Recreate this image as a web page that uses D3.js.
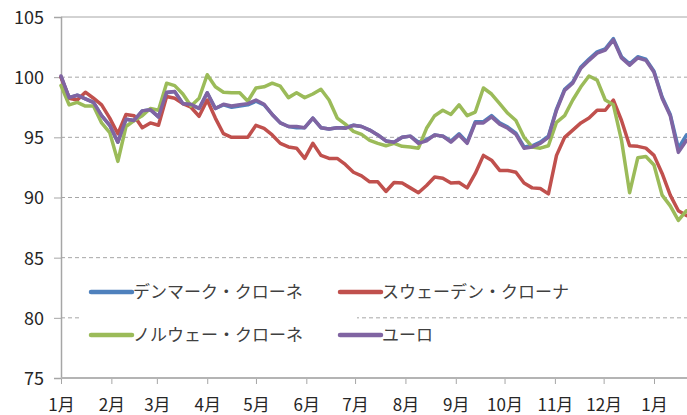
<!DOCTYPE html>
<html>
<head>
<meta charset="utf-8">
<script src="https://cdn.jsdelivr.net/npm/d3@7"></script>
<style>
  body { margin: 0; background: #fff; }
  svg text { font-family: "Noto Sans CJK JP", "Liberation Sans", sans-serif; fill: #262626; }
</style>
</head>
<body>
<svg id="chart"></svg>
<script>
// Index values (start of Jan = 100), one reading every 5 days from 2014-01-01
const dates = d3.timeDay.range(new Date(2014, 0, 1), new Date(2015, 0, 22), 5);

const dkk = [100.0, 98.3, 98.5, 98.2, 97.9, 96.8, 96.0, 94.6, 96.5, 96.4,
  97.2, 97.3, 96.7, 98.7, 98.8, 97.8, 97.7, 97.4, 98.7, 97.4,
  97.7, 97.5, 97.6, 97.7, 98.0, 97.7, 96.9, 96.2, 95.9, 95.8,
  95.8, 96.6, 95.8, 95.7, 95.8, 95.8, 96.0, 95.9, 95.6, 95.2,
  94.7, 94.6, 95.0, 95.1, 94.6, 94.8, 95.2, 95.1, 94.7, 95.3,
  94.6, 96.3, 96.3, 96.8, 96.2, 95.85, 95.35, 94.2, 94.3, 94.6,
  95.1, 97.35, 99.0, 99.6, 100.85, 101.5, 102.1, 102.35, 103.2, 101.7,
  101.1, 101.7, 101.5, 100.5, 98.35, 96.9, 94.1, 95.2];

const sek = [100.0, 98.25, 98.1, 98.75, 98.25, 97.7, 96.6, 95.3, 96.9, 96.8,
  95.8, 96.2, 96.0, 98.4, 98.25, 97.8, 97.5, 96.75, 98.1, 96.6,
  95.3, 95.0, 95.0, 95.0, 96.0, 95.75, 95.2, 94.5, 94.2, 94.1,
  93.25, 94.5, 93.5, 93.25, 93.25, 92.75, 92.1, 91.8, 91.3, 91.3,
  90.5, 91.25, 91.2, 90.8, 90.4, 91.0, 91.7, 91.6, 91.2, 91.25,
  90.8, 92.0, 93.5, 93.1, 92.25, 92.25, 92.1, 91.2, 90.8, 90.75,
  90.3, 93.5, 95.0, 95.6, 96.2, 96.6, 97.25, 97.25, 98.1, 96.4,
  94.3, 94.25, 94.1, 93.5, 92.0, 90.2, 88.9, 88.5];

const nok = [99.3, 97.7, 97.9, 97.6, 97.6, 96.2, 95.4, 93.0, 95.9, 96.4,
  96.8, 97.4, 97.25, 99.5, 99.3, 98.6, 97.6, 98.25, 100.2, 99.2,
  98.75, 98.7, 98.7, 98.0, 99.1, 99.2, 99.5, 99.25, 98.3, 98.7,
  98.3, 98.6, 99.0, 98.1, 96.6, 96.1, 95.5, 95.25, 94.75, 94.5,
  94.3, 94.5, 94.25, 94.2, 94.1, 95.75, 96.8, 97.25, 96.9, 97.7,
  96.8, 97.1, 99.1, 98.6, 97.8, 97.0, 96.4, 95.0, 94.2, 94.1,
  94.3, 96.25, 96.8, 98.1, 99.2, 100.1, 99.75, 98.1, 97.7, 94.75,
  90.4, 93.3, 93.4, 92.7, 90.2, 89.3, 88.1, 88.9];

const eur = [100.1, 98.3, 98.5, 98.2, 97.9, 96.8, 96.0, 94.6, 96.5, 96.4,
  97.2, 97.3, 96.7, 98.75, 98.8, 97.8, 97.75, 97.4, 98.7, 97.4,
  97.75, 97.6, 97.7, 97.8, 98.1, 97.75, 96.9, 96.2, 95.9, 95.9,
  95.8, 96.6, 95.8, 95.7, 95.8, 95.75, 96.0, 95.9, 95.6, 95.2,
  94.7, 94.6, 95.0, 95.1, 94.5, 94.7, 95.2, 95.1, 94.6, 95.2,
  94.5, 96.2, 96.2, 96.7, 96.1, 95.75, 95.25, 94.1, 94.2, 94.5,
  95.0, 97.25, 98.9, 99.5, 100.75, 101.4, 102.0, 102.25, 103.1, 101.6,
  101.0, 101.6, 101.4, 100.4, 98.25, 96.8, 93.75, 94.75];

const seriesNames = ["デンマーク・クローネ", "スウェーデン・クローナ", "ノルウェー・クローネ", "ユーロ"];
const seriesColors = ["#4F81BD", "#C0504D", "#9BBB59", "#8064A2"];
const yTicks = [75, 80, 85, 90, 95, 100, 105];
const tickLabels = ["1月", "2月", "3月", "4月", "5月", "6月", "7月", "8月", "9月", "10月", "11月", "12月", "1月"];

const width = 687, height = 415;
const plot = { left: 61, right: 687, top: 17, bottom: 378 };

const svg = d3.select("#chart")
    .attr("width", width)
    .attr("height", height);

const x = d3.scaleTime()
    .domain([new Date(2014, 0, 1), new Date(2015, 0, 1)])
    .range([plot.left, 654]);

const y = d3.scaleLinear()
    .domain([75, 105])
    .range([plot.bottom, plot.top]);

// gridlines (top one solid)
svg.append("g")
    .selectAll("line")
    .data(yTicks.filter(v => v > 75))
    .join("line")
    .attr("x1", plot.left)
    .attr("x2", plot.right)
    .attr("y1", d => y(d))
    .attr("y2", d => y(d))
    .attr("stroke", "#A6A6A6")
    .attr("stroke-width", 1)
    .attr("stroke-dasharray", d => d === 105 ? null : "4,3");

// y axis
const yAxis = svg.append("g")
    .attr("transform", `translate(${plot.left},0)`)
    .call(d3.axisLeft(y).tickValues(yTicks).tickSize(7).tickPadding(10));
yAxis.select(".domain").attr("stroke", "#A6A6A6").attr("stroke-width", 1.5);
yAxis.selectAll(".tick line").attr("stroke", "#A6A6A6");
yAxis.selectAll("text").style("font-size", "18px").attr("dy", "0.36em");

// x axis
const monthStarts = d3.timeMonth.range(new Date(2014, 0, 1), new Date(2015, 0, 2));
const xAxis = svg.append("g")
    .attr("transform", `translate(0,${plot.bottom})`)
    .call(d3.axisBottom(x).tickValues(monthStarts).tickFormat((d, i) => tickLabels[i]).tickSize(6));
xAxis.select(".domain").remove();
xAxis.selectAll(".tick line").attr("stroke", "#A6A6A6");
xAxis.selectAll("text").style("font-size", "17px").attr("y", 33).attr("dy", null);
xAxis.append("line")
    .attr("x1", plot.left).attr("x2", plot.right)
    .attr("stroke", "#B4B4B4").attr("stroke-width", 2);

// lines
const allSeries = [dkk, sek, nok, eur];
const line = d3.line()
    .x((d, i) => x(dates[i]))
    .y(d => y(d));

svg.append("g")
    .selectAll("path")
    .data(allSeries)
    .join("path")
    .attr("d", d => line(d))
    .attr("fill", "none")
    .attr("stroke", (d, i) => seriesColors[i])
    .attr("stroke-width", 3.5)
    .attr("stroke-linejoin", "round")
    .attr("stroke-linecap", "round");

// legend
const legend = svg.append("g").attr("class", "legend");
legend.append("rect")
    .attr("x", 80).attr("y", 263)
    .attr("width", 277).attr("height", 95)
    .attr("fill", "#fff");

const legendPos = [[91, 292], [340, 292], [91, 335], [340, 335]];
seriesNames.forEach((name, i) => {
    const [lx, ly] = legendPos[i];
    legend.append("line")
        .attr("x1", lx).attr("x2", lx + 41)
        .attr("y1", ly).attr("y2", ly)
        .attr("stroke", seriesColors[i])
        .attr("stroke-width", 4.5)
        .attr("stroke-linecap", "round");
    legend.append("text")
        .attr("x", lx + 42)
        .attr("y", ly)
        .attr("dy", "0.35em")
        .style("font-size", "17px")
        .style("fill", "#404040")
        .text(name);
});
</script>
</body>
</html>
